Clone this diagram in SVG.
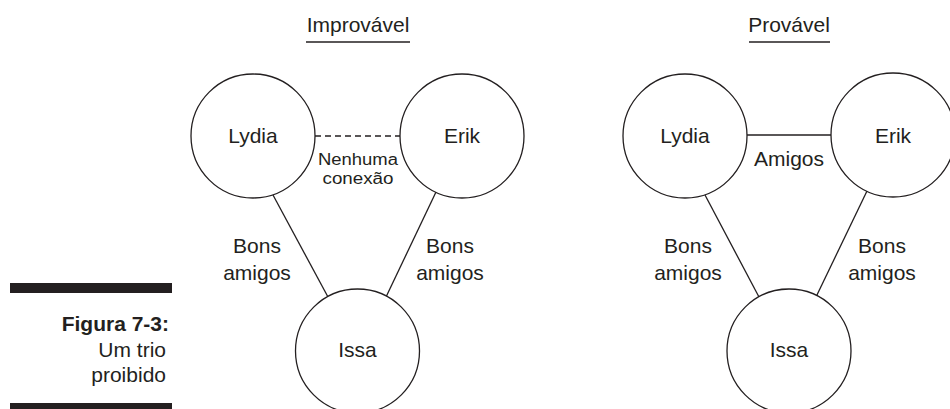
<svg xmlns="http://www.w3.org/2000/svg" width="950" height="409" viewBox="0 0 950 409">
<style>
text{font-family:"Liberation Sans",Arial,sans-serif;fill:#231f20;font-size:21px;text-anchor:middle}
.node{fill:#fff;stroke:#231f20;stroke-width:1.3}
.edge{stroke:#231f20;stroke-width:1.3;fill:none}
.dash{stroke-dasharray:6 4}
.small{font-size:16px}
.cap{text-anchor:end}
.bold{font-weight:bold}
</style>
<rect width="950" height="409" fill="#fff"/>
<g id="caption">
<rect x="10" y="283" width="162" height="10" fill="#231f20"/>
<rect x="10" y="403" width="162" height="6" fill="#231f20"/>
<text class="cap bold" x="169" y="331">Figura 7-3:</text>
<text class="cap" x="166" y="357">Um trio</text>
<text class="cap" x="166" y="382">proibido</text>
</g>
<g id="titles">
<text x="358" y="32">Improvável</text>
<line class="edge" x1="306" y1="42" x2="410" y2="42"/>
<text x="789" y="32">Provável</text>
<line class="edge" x1="749" y1="42" x2="830" y2="42"/>
</g>
<g id="connectors">
<line class="edge dash" x1="315" y1="136" x2="400" y2="136"/>
<line class="edge" x1="273" y1="195" x2="328" y2="297"/>
<line class="edge" x1="436" y1="192" x2="386" y2="297"/>
<line class="edge" x1="747" y1="135" x2="831" y2="135"/>
<line class="edge" x1="705" y1="195" x2="759" y2="297"/>
<line class="edge" x1="867" y1="191" x2="816" y2="297"/>
</g>
<g id="edge-labels">
<text class="small" x="358" y="165" textLength="80" lengthAdjust="spacingAndGlyphs">Nenhuma</text>
<text class="small" x="358" y="184" textLength="71" lengthAdjust="spacingAndGlyphs">conexão</text>
<text x="257" y="253">Bons</text>
<text x="257" y="280">amigos</text>
<text x="450" y="253">Bons</text>
<text x="450" y="280">amigos</text>
<text x="789" y="166">Amigos</text>
<text x="688" y="253">Bons</text>
<text x="688" y="280">amigos</text>
<text x="882" y="253">Bons</text>
<text x="882" y="280">amigos</text>
</g>
<g id="lydia-1"><circle class="node" cx="253" cy="136" r="62"/><text x="253" y="143">Lydia</text></g>
<g id="erik-1"><circle class="node" cx="462" cy="136" r="62"/><text x="462" y="143">Erik</text></g>
<g id="issa-1"><circle class="node" cx="357.5" cy="351" r="62"/><text x="357.5" y="357">Issa</text></g>
<g id="lydia-2"><circle class="node" cx="685" cy="136" r="62"/><text x="685" y="143">Lydia</text></g>
<g id="erik-2"><circle class="node" cx="893" cy="135" r="62"/><text x="893" y="143">Erik</text></g>
<g id="issa-2"><circle class="node" cx="789" cy="351" r="62"/><text x="789" y="357">Issa</text></g>
</svg>
